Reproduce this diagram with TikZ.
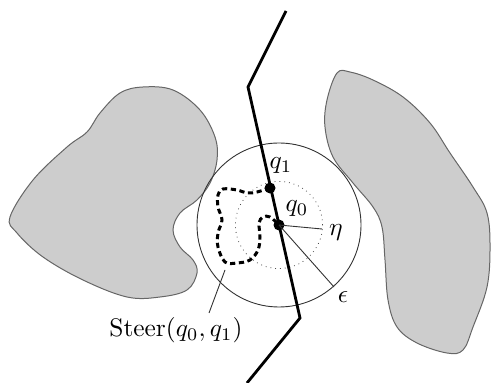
\documentclass[tikz,border=0pt]{standalone}
\usepackage{amsmath,amssymb}
\usepackage{tikz}
\usetikzlibrary{calc}
\usetikzlibrary{positioning}
\definecolor{obstgray}{RGB}{205,205,205}
\tikzset{
    % 障碍物样式
    obstacle/.style={
        fill=obstgray,
        draw=black!60,
        line width=0.5pt
    },
    % 粗折线样式
    pathline/.style={
        line width=1.4pt,
        black,
        line join=miter
    },
    % 虚线 Steer 样式
    steerpath/.style={
        line width=1.5pt,
        black,
        dash pattern=on 2.6pt off 1.8pt
    },
    ptdot/.style={
        circle,
        fill=black,
        inner sep=0pt,
        minimum size=5.5pt
    },
    thinline/.style={
        line width=0.45pt,
        black!80
    },
    labeltext/.style={
        scale=1.27,
        inner sep=1pt
    }
}

\begin{document}
\begin{tikzpicture}[x=0.5pt,y=-0.5pt]
   \useasboundingbox (0,0) rectangle (491,383);
   \path
    (286,11) coordinate (a1)
    (248,87) coordinate (a2)
    (300,318) coordinate (a3)
    (247,383) coordinate (a4)
    (322,229) coordinate (etaend)
    (334,287) coordinate (epsend)
    (225,270) coordinate (lead1)
    (209,313) coordinate (lead2);

    % 两个灰色障碍物
    \draw[obstacle] plot[smooth cycle, tension=0.6] coordinates {
      (10,217) (33,180) (67,147) (87,132) (100,113) (120,93) (143,87)
      (173,90) (200,110) (215,137) (217,160) (210,183) (197,200)
      (180,213) (173,230) (180,247) (193,260) (197,273) (187,290)
      (160,297) (127,297) (83,280) (43,257) (17,233)};
    \draw[obstacle] plot[smooth cycle, tension=0.6] coordinates {
      (337,73) (350,72) (373,80) (403,97) (430,123) (450,153) (473,187)
      (487,213) (490,247) (487,287) (473,327) (463,350) (447,353)
      (417,343) (397,327) (388,300) (385,260) (382,227) (373,207)
      (353,183) (333,157) (325,127) (327,100)};

    % 圆
    \node[ptdot] (q1) at (270,188) {};
    \node[ptdot] (q0) at (279,225) {};
    \draw[thinline] (q0.center) circle (41pt);
    \draw[black!70, line width=0.4pt, dotted] (q0.center) circle (21.8pt);

    % 粗折线
    \draw[pathline] (a1) -- (a2) -- (a3) -- (a4);

    % Steer 虚线
    \draw[steerpath] plot[smooth, tension=0.6] coordinates {
      (270,188) (257,192) (247,193) (237,190) (223,189) (218,195)
      (218,207) (222,220) (218,233) (218,247) (225,262) (237,263)
      (250,260) (258,250) (260,237) (259,223) (263,217) (270,217) (279,225)};

    \draw[thinline] (q0.center) -- (etaend);
    \draw[thinline] (q0.center) -- (epsend);
    \draw[thinline] (lead1) -- (lead2);

    % 标注
    \node[labeltext] (q1lab) at (281,166) {$q_1$};
    \node[labeltext] (q0lab) at (297,209) {$q_0$};
    \node[labeltext] (etalab) at (336,233) {$\eta$};
    \node[labeltext] (epslab) at (343,297) {$\epsilon$};
    \node[labeltext] (steerlab) at (176,330) {$\mathrm{Steer}(q_0,q_1)$};

\end{tikzpicture}
\end{document}
